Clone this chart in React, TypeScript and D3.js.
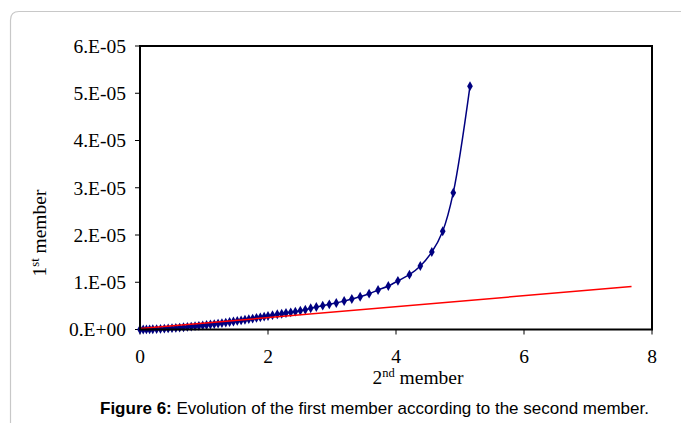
import React from 'react';
import * as d3 from 'd3';

// second member (x) and first member (y, in units of 1e-5)
const blueX = [
  0, 0.05, 0.1, 0.15, 0.2, 0.26, 0.32, 0.38, 0.44, 0.5, 0.56, 0.62, 0.68, 0.74, 0.8, 0.86, 0.92, 0.98,
  1.04, 1.1, 1.16, 1.22, 1.28, 1.34, 1.4, 1.46, 1.52, 1.58, 1.64, 1.7, 1.76, 1.82, 1.88, 1.94, 2.0, 2.07,
  2.145, 2.214, 2.281, 2.355, 2.427, 2.505, 2.583, 2.667, 2.755, 2.855, 2.958, 3.067, 3.19, 3.31, 3.44,
  3.58, 3.72, 3.88, 4.03, 4.21, 4.38, 4.56, 4.73, 4.895, 5.156,
];
const blueY = [
  0, 0.001, 0.002, 0.004, 0.006, 0.009, 0.013, 0.018, 0.023, 0.028, 0.034, 0.041, 0.047, 0.054, 0.062,
  0.07, 0.078, 0.087, 0.096, 0.106, 0.115, 0.125, 0.136, 0.147, 0.158, 0.169, 0.181, 0.193, 0.206, 0.218,
  0.231, 0.245, 0.258, 0.272, 0.286, 0.303, 0.322, 0.334, 0.349, 0.364, 0.377, 0.398, 0.419, 0.449, 0.476,
  0.504, 0.533, 0.561, 0.603, 0.645, 0.694, 0.758, 0.836, 0.92, 1.03, 1.16, 1.344, 1.64, 2.08, 2.895, 5.15,
];
const redX = [0, 7.68];
const redY = [0.02, 0.91];

const xTicks = [0, 2, 4, 6, 8];
const yTicks = [0, 1, 2, 3, 4, 5, 6];
const yTickLabels = ['0.E+00', '1.E-05', '2.E-05', '3.E-05', '4.E-05', '5.E-05', '6.E-05'];

const W = 681;
const H = 423;
const left = 140, right = 652, top = 46, bottom = 329.5;

const App = () => {
  const x = d3.scaleLinear().domain([0, 8]).range([left, right]);
  const y = d3.scaleLinear().domain([0, 6]).range([bottom, top]);

  const blue = blueX.map((v, i) => [v, blueY[i]] as [number, number]);
  const red = redX.map((v, i) => [v, redY[i]] as [number, number]);

  const line = d3.line<[number, number]>()
    .x(d => x(d[0]))
    .y(d => y(d[1]))
    .curve(d3.curveCatmullRom.alpha(0.5));
  const straight = d3.line<[number, number]>().x(d => x(d[0])).y(d => y(d[1]));
  const diamond = d3.symbol().type(d3.symbolDiamond).size(28)();

  const serif = '"Liberation Serif", "Times New Roman", serif';

  return (
    <svg width={W} height={H} style={{ position: 'absolute', left: 0, top: 0, background: '#fff' }}>
      <path d={`M10.5,${H + 5} L10.5,20 Q10.5,11.5 19,11.5 L${W + 5},11.5`} fill="none" stroke="#c8c8c8" strokeWidth={1.2} />

      {/* ticks */}
      {yTicks.map(t => (
        <line key={'yt' + t} x1={left - 5} x2={left} y1={y(t)} y2={y(t)} stroke="#000" strokeWidth={1} />
      ))}
      {xTicks.map(t => (
        <line key={'xt' + t} x1={x(t)} x2={x(t)} y1={bottom} y2={bottom + 5} stroke="#000" strokeWidth={1} />
      ))}
      {yTicks.map((t, i) => (
        <text key={'yl' + t} x={left - 14} y={y(t)} dy="0.35em" textAnchor="end" fontFamily={serif} fontSize={19.5} fill="#000">
          {yTickLabels[i]}
        </text>
      ))}
      {xTicks.map(t => (
        <text key={'xl' + t} x={x(t)} y={bottom + 33} textAnchor="middle" fontFamily={serif} fontSize={19.5} fill="#000">
          {t}
        </text>
      ))}

      {/* series */}
      <path d={line(blue) || ''} fill="none" stroke="#000080" strokeWidth={1.5} />
      {blue.map((d, i) => (
        <path key={'m' + i} d={diamond || ''} transform={`translate(${x(d[0])},${y(d[1])})`} fill="#000080" />
      ))}
      <path d={straight(red) || ''} fill="none" stroke="#ff0000" strokeWidth={1.5} />

      {/* frame */}
      <rect x={left} y={top} width={right - left} height={bottom - top} fill="none" stroke="#000" strokeWidth={2} />

      {/* axis titles */}
      <text x={418} y={384} textAnchor="middle" fontFamily={serif} fontSize={19.5} fill="#000">
        2<tspan fontSize={12.5} dy={-7}>nd</tspan><tspan dy={7}> member</tspan>
      </text>
      <text transform="translate(46,233) rotate(-90)" textAnchor="middle" fontFamily={serif} fontSize={19.5} fill="#000">
        1<tspan fontSize={12.5} dy={-7}>st</tspan><tspan dy={7}> member</tspan>
      </text>

      {/* caption */}
      <text x={374.5} y={414} textAnchor="middle" fontFamily='"Liberation Sans", Arial, sans-serif' fontSize={17} fill="#000">
        <tspan fontWeight="bold">Figure 6:</tspan> Evolution of the first member according to the second member.
      </text>
    </svg>
  );
};

export default App;
